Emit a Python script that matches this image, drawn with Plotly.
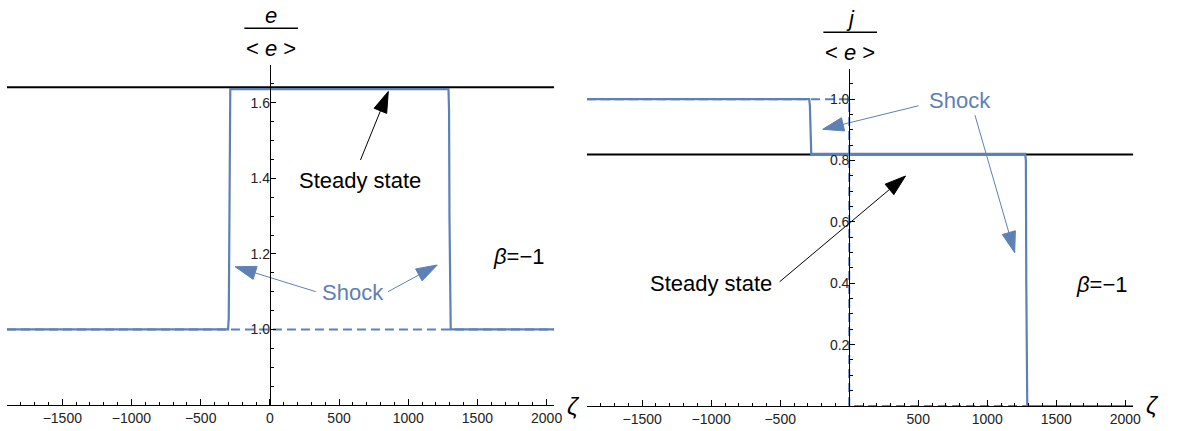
import plotly.graph_objects as go

W, H = 1178, 431

# ---------------- data ----------------
# left panel: e/<e>
e_zeta = [-1900, -302, -297, -294, -290, -286, 1291, 1295, 1298, 1302, 1307, 2055]
e_val = [1.0, 1.0, 1.03, 1.30, 1.58, 1.636, 1.636, 1.58, 1.30, 1.03, 1.0, 1.0]
e0_zeta = [-1900, 2055]
e0_val = [1.0, 1.0]
e_steady_zeta = [-1900, 2055]
e_steady_val = [1.641, 1.641]

# right panel: j/<e>
j_zeta = [-1900, -290, -285, -282, -279, -275, 1275, 1280, 1283, 1286, 1290, 2058]
j_val = [1.0, 1.0, 0.98, 0.90, 0.84, 0.822, 0.822, 0.80, 0.40, 0.05, 0.0, 0.0]
j0_zeta = [-1900, 0, 0, 2058]
j0_val = [1.0, 1.0, 0.0, 0.0]
j_steady_zeta = [-1900, 2058]
j_steady_val = [0.82, 0.82]

# tick labels
x_ticks_left = [-1500, -1000, -500, 0, 500, 1000, 1500, 2000]
x_ticks_right = [-1500, -1000, -500, 500, 1000, 1500, 2000]
y_ticks_left = [1.0, 1.2, 1.4, 1.6]
y_ticks_right = [0.2, 0.4, 0.6, 0.8, 1.0]

# annotation arrows: (tail_x, tail_y, tip_x, tip_y)
left_steady_arrow = (655, 1.4485, 856, 1.630)
left_shock_arrows = [(332, 1.10, -251, 1.166), (854, 1.10, 1210, 1.1706)]
right_shock_arrows = [(503, 0.9787, -192, 0.9018), (911, 0.948, 1199, 0.4996)]
right_steady_arrow = (-504, 0.405, 408, 0.7496)

# ---------------- style ----------------
BLUE = "rgb(94,129,181)"
FONT = "Liberation Sans, Arial, sans-serif"
XR_L = [-1900, 2055]
XR_R = [-1900, 2058]
YR_L = [0.8, 1.7]
YR_R = [0.0, 1.1]
XD_L = [7 / W, 558 / W]
XD_R = [591 / W, 1141 / W]
YD_L = [(H - 405) / H, (H - 65) / H]
YD_R = [(H - 406) / H, (H - 68.5) / H]


def zero_pos(dom, rng):
    return dom[0] + (0 - rng[0]) / (rng[1] - rng[0]) * (dom[1] - dom[0])


fig = go.Figure()

# left panel
fig.add_trace(go.Scatter(x=e_steady_zeta, y=e_steady_val, mode="lines",
                         line=dict(color="black", width=2), xaxis="x", yaxis="y"))
fig.add_trace(go.Scatter(x=e0_zeta, y=e0_val, mode="lines",
                         line=dict(color=BLUE, width=2, dash="9px,5px"), xaxis="x", yaxis="y"))
fig.add_trace(go.Scatter(x=e_zeta, y=e_val, mode="lines",
                         line=dict(color=BLUE, width=2.2), xaxis="x", yaxis="y"))

# right panel
fig.add_trace(go.Scatter(x=j_steady_zeta, y=j_steady_val, mode="lines",
                         line=dict(color="black", width=2), xaxis="x2", yaxis="y2"))
fig.add_trace(go.Scatter(x=j0_zeta, y=j0_val, mode="lines",
                         line=dict(color=BLUE, width=2, dash="9px,5px"), xaxis="x2", yaxis="y2"))
fig.add_trace(go.Scatter(x=j_zeta, y=j_val, mode="lines",
                         line=dict(color=BLUE, width=2.2), xaxis="x2", yaxis="y2"))


def add_arrow(a, color, xa, ya):
    tx, ty, hx, hy = a
    fig.add_trace(go.Scatter(
        x=[tx, hx], y=[ty, hy], mode="lines+markers",
        line=dict(color=color, width=1),
        marker=dict(symbol=["circle", "arrow"], size=[0, 22], color=color, opacity=1,
                    angleref="previous", line=dict(width=1, color=color)),
        xaxis=xa, yaxis=ya, cliponaxis=False))


add_arrow(left_steady_arrow, "black", "x", "y")
for a in left_shock_arrows:
    add_arrow(a, BLUE, "x", "y")
for a in right_shock_arrows:
    add_arrow(a, BLUE, "x2", "y2")
add_arrow(right_steady_arrow, "black", "x2", "y2")


def xaxis(dom, rng, ticks, anchor):
    return dict(domain=dom, range=rng, anchor=anchor, showline=True, linecolor="black",
                linewidth=1, ticks="inside", ticklen=6, tickcolor="black",
                tickmode="array", tickvals=ticks,
                ticktext=[("−" + str(abs(t))) if t < 0 else str(t) for t in ticks],
                minor=dict(ticks="inside", ticklen=3.5, tickcolor="black",
                           tickmode="linear", tick0=0, dtick=100, showgrid=False),
                showgrid=False, zeroline=False,
                tickfont=dict(family=FONT, size=14, color="#222"))


def yaxis(dom, rng, ticks, pos):
    return dict(domain=dom, range=rng, anchor="free", position=pos, showline=True,
                linecolor="black", linewidth=1, ticks="inside", ticklen=5,
                tickcolor="black", tickmode="array", tickvals=ticks,
                ticktext=["%.1f" % t for t in ticks], ticklabelstandoff=-3,
                minor=dict(ticks="inside", ticklen=3, tickcolor="black",
                           tickmode="linear", tick0=0, dtick=0.05, showgrid=False),
                showgrid=False, zeroline=False,
                tickfont=dict(family=FONT, size=14, color="#222"))


fig.update_layout(
    width=W, height=H, margin=dict(l=0, r=0, t=0, b=0),
    paper_bgcolor="white", plot_bgcolor="white", showlegend=False,
    xaxis=xaxis(XD_L, XR_L, x_ticks_left, "y"),
    yaxis=yaxis(YD_L, YR_L, y_ticks_left, zero_pos(XD_L, XR_L)),
    xaxis2=xaxis(XD_R, XR_R, x_ticks_right, "y2"),
    yaxis2=yaxis(YD_R, YR_R, y_ticks_right, zero_pos(XD_R, XR_R)),
)


def txt(x, y, s, xref, yref, color="black", size=22):
    fig.add_annotation(x=x, y=y, text=s, xref=xref, yref=yref, showarrow=False,
                       font=dict(family=FONT, size=size, color=color),
                       xanchor="center", yanchor="middle")


# left panel texts
txt(648, 1.3956, "Steady state", "x", "y")
txt(601, 1.099, "Shock", "x", "y", color=BLUE)
txt(1797, 1.194, "<i>β</i>=−1", "x", "y")
# right panel texts
txt(806, 0.997, "Shock", "x2", "y2", color=BLUE)
txt(-1000, 0.400, "Steady state", "x2", "y2")
txt(1835, 0.3976, "<i>β</i>=−1", "x2", "y2")

# axis labels (zeta)
txt(577 / W, (H - 406) / H, "<i>ζ</i>", "paper", "paper", size=24)
txt(1160 / W, (H - 405) / H, "<i>ζ</i>", "paper", "paper", size=24)

# fraction-style y titles
txt(273 / W, (H - 15) / H, "<i>e</i>", "paper", "paper")
txt(273 / W, (H - 49) / H, "&lt; <i>e</i> &gt;", "paper", "paper")
txt(856 / W, (H - 19) / H, "<i>j</i>", "paper", "paper")
txt(856 / W, (H - 52) / H, "&lt; <i>e</i> &gt;", "paper", "paper")
fig.add_shape(type="line", xref="paper", yref="paper", x0=246 / W, x1=300 / W,
              y0=(H - 28.3) / H, y1=(H - 28.3) / H, line=dict(color="black", width=1.5))
fig.add_shape(type="line", xref="paper", yref="paper", x0=829 / W, x1=883 / W,
              y0=(H - 32.3) / H, y1=(H - 32.3) / H, line=dict(color="black", width=1.5))

fig.write_html("out.html",
               config={"displayModeBar": False},
               post_script="document.body.style.margin='0';"
                           "document.documentElement.style.overflow='hidden';"
                           "document.body.style.overflow='hidden';")
